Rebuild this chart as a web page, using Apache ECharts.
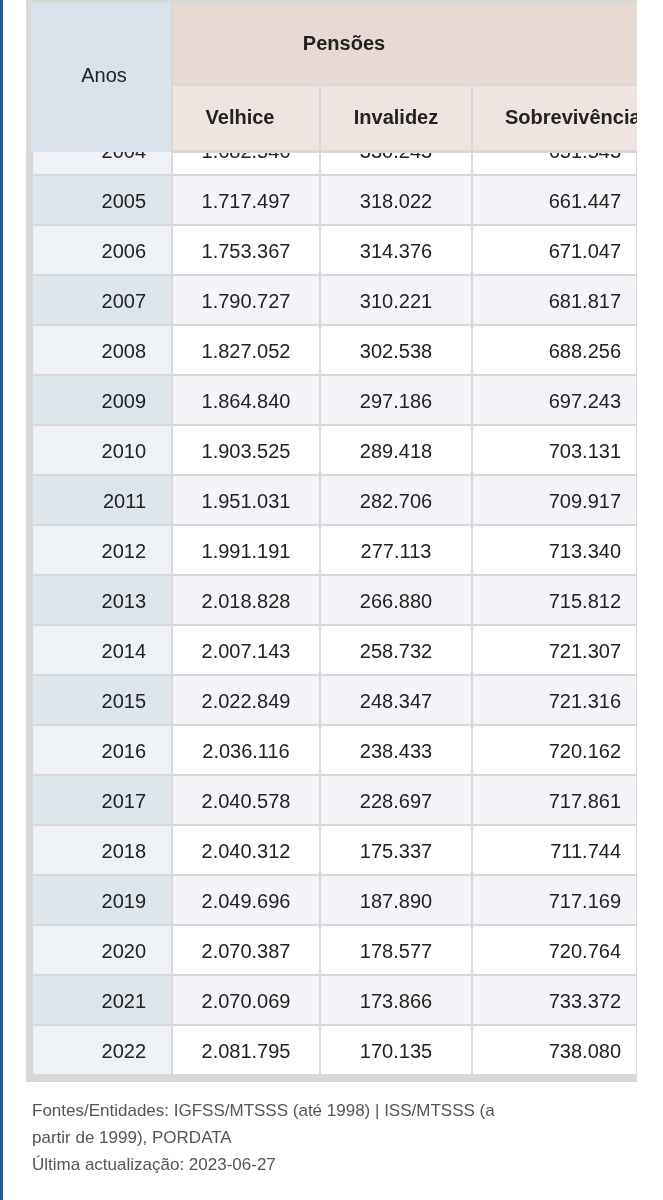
<!DOCTYPE html>
<html><head><meta charset="utf-8">
<script src="https://cdn.jsdelivr.net/npm/echarts@6/dist/echarts.min.js"></script>
<style>html,body{margin:0;padding:0;background:#fff}#c{width:663px;height:1200px}</style>
</head><body><div id="c"></div>
<script>
const years = [2004,2005,2006,2007,2008,2009,2010,2011,2012,2013,2014,2015,2016,2017,2018,2019,2020,2021,2022];
const velhice = ['1.682.546','1.717.497','1.753.367','1.790.727','1.827.052','1.864.840','1.903.525','1.951.031','1.991.191','2.018.828','2.007.143','2.022.849','2.036.116','2.040.578','2.040.312','2.049.696','2.070.387','2.070.069','2.081.795'];
const invalidez = ['330.243','318.022','314.376','310.221','302.538','297.186','289.418','282.706','277.113','266.880','258.732','248.347','238.433','228.697','175.337','187.890','178.577','173.866','170.135'];
const sobrevivencia = ['651.543','661.447','671.047','681.817','688.256','697.243','703.131','709.917','713.340','715.812','721.307','721.316','720.162','717.861','711.744','717.169','720.764','733.372','738.080'];
const headers = ['Anos','Pensões','Velhice','Invalidez','Sobrevivência'];
const footer = ['Fontes/Entidades: IGFSS/MTSSS (até 1998) | ISS/MTSSS (a','partir de 1999), PORDATA','Última actualização: 2023-06-27'];

const edges = [0,140,288,440,605];
const ff = '"Liberation Sans", Arial, sans-serif';
const cols = [null, velhice, invalidez, sobrevivencia];
const data = years.map((y,i)=>[y, i]);

function txt(text,x,y,align,size,weight,fill){
  return {type:'text',style:{text:text,x:x,y:y,textAlign:align,textVerticalAlign:'middle',fontFamily:ff,fontSize:size,fontWeight:weight,fill:fill}};
}

const chart = echarts.init(document.getElementById('c'));
chart.setOption({
  animation:false,
  grid:{left:32,right:26,top:152,bottom:125},
  xAxis:{type:'value',min:0,max:605,show:false},
  yAxis:{type:'value',min:2004.04,max:2022.5,inverse:true,show:false},
  series:[{
    type:'custom', clip:true, data:data,
    renderItem:function(params, api){
      const i = params.dataIndex;
      const y = years[i];
      const odd = y % 2 === 1;
      const children=[];
      for(let c=0;c<4;c++){
        const p0 = api.coord([edges[c], y-0.5]);
        const p1 = api.coord([edges[c+1], y+0.5]);
        let fill = c===0 ? (odd?'#dee6ed':'#eef2f6') : (odd?'#f3f5f8':'#ffffff');
        children.push({type:'rect',shape:{x:p0[0]+1,y:p0[1]+1,width:p1[0]-p0[0]-2,height:p1[1]-p0[1]-2},style:{fill:fill}});
        const t = c===0 ? String(y) : cols[c][i];
        let tx, align;
        if(c===0){tx=p0[0]+114;align='right';}
        else if(c===3){tx=p1[0]-16;align='right';}
        else {tx=(p0[0]+p1[0])/2;align='center';}
        children.push(txt(t,tx,(p0[1]+p1[1])/2+2,align,20,'normal','#222'));
      }
      return {type:'group',children:children};
    },
    z:1
  }],
  graphic:[
    {type:'rect',shape:{x:26,y:0,width:611,height:1082},style:{fill:'#d8d8d8'},z:-10},
    {type:'rect',shape:{x:0,y:0,width:3,height:1200},style:{fill:'#1d5c96'},z:10},
    {type:'rect',shape:{x:31,y:3,width:140,height:149},style:{fill:'#dae3eb'},z:10},
    {type:'rect',shape:{x:173,y:3,width:464,height:81},style:{fill:'#e8d9d2'},z:10},
    {type:'rect',shape:{x:173,y:86,width:146,height:64},style:{fill:'#efe4df'},z:10},
    {type:'rect',shape:{x:321,y:86,width:150,height:64},style:{fill:'#efe4df'},z:10},
    {type:'rect',shape:{x:473,y:86,width:164,height:64},style:{fill:'#efe4df'},z:10},
    {type:'rect',shape:{x:171,y:150,width:466,height:3},style:{fill:'#d8d8d8'},z:10},
    Object.assign(txt(headers[0],104,76,'center',20,'normal','#222'),{z:11}),
    Object.assign(txt(headers[1],344,44,'center',20,'bold','#222'),{z:11}),
    Object.assign(txt(headers[2],240,118,'center',20,'bold','#222'),{z:11}),
    Object.assign(txt(headers[3],396,118,'center',20,'bold','#222'),{z:11}),
    Object.assign(txt(headers[4],505,118,'left',20,'bold','#222'),{z:11}),
    {type:'rect',shape:{x:637,y:0,width:26,height:1100},style:{fill:'#fff'},z:12},
    Object.assign(txt(footer[0],32,1111,'left',17,'normal','#555'),{z:11}),
    Object.assign(txt(footer[1],32,1138,'left',17,'normal','#555'),{z:11}),
    Object.assign(txt(footer[2],32,1165,'left',17,'normal','#555'),{z:11})
  ]
});
</script></body></html>
